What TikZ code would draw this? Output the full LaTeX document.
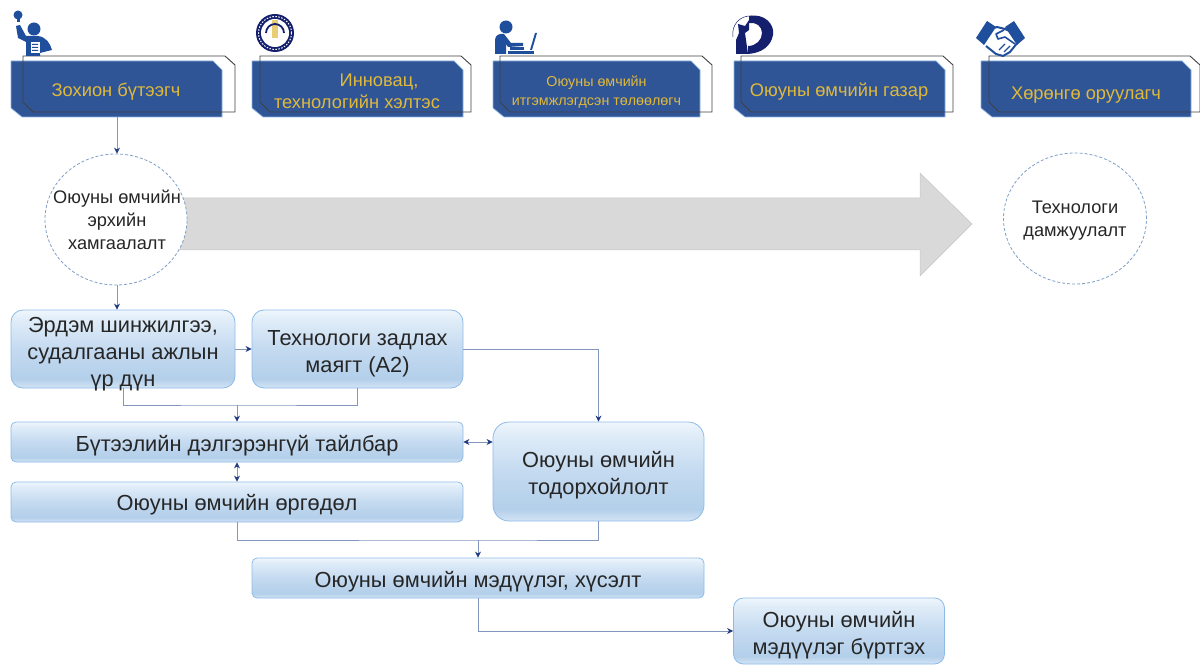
\documentclass[tikz,border=0pt]{standalone}
\usepackage{fontspec}
\setmainfont{Liberation Sans}
\usetikzlibrary{arrows.meta,shapes.geometric}
\definecolor{hblue}{HTML}{2F5597}
\definecolor{hedge}{HTML}{8DB4E2}
\definecolor{hgold}{HTML}{E0B93A}
\definecolor{line}{HTML}{8296BE}
\definecolor{tip}{HTML}{1F3A80}
\definecolor{bedge}{HTML}{8DBBE8}
\definecolor{icon}{HTML}{1F4E9C}
\definecolor{navy}{HTML}{14206E}
\definecolor{dashc}{HTML}{7F9FC8}
\definecolor{sa}{HTML}{D4E4F4}
\definecolor{sb}{HTML}{B3CFEA}
\definecolor{sc}{HTML}{C4DAF0}
\definecolor{sd}{HTML}{E2EEF9}
\definecolor{se}{HTML}{F0F6FC}
\pgfdeclareverticalshading{boxshade}{100bp}{
 color(0bp)=(sa); color(25bp)=(sa); color(31bp)=(sb); color(50bp)=(sc); color(70bp)=(sd); color(75bp)=(se); color(100bp)=(se)}
\newcommand{\tg}[1]{\rule{0pt}{#1pt}}
\tikzset{
 x=1pt,y=-1pt,
 every node/.style={inner sep=0pt,align=center,text=black!85},
 hfill/.style={fill=hblue,draw=hedge,line width=.7pt},
 houtline/.style={draw=black!75,line width=.9pt},
 htext/.style={text=hgold,font=\fontsize{18.3}{22}\selectfont},
 hsmall/.style={text=hgold,font=\fontsize{14.3}{19}\selectfont},
 flow/.style={draw=bedge,line width=.8pt,rounded corners=#1,shading=boxshade,font=\fontsize{21.8}{27.3}\selectfont},
 flow/.default=12pt,
 ftext/.style={font=\fontsize{21.8}{27.3}\selectfont},
 conn/.style={draw=line,line width=.9pt,-{Stealth[length=6pt,width=6pt,color=tip]}},
 bi/.style={draw=line,line width=.9pt,{Stealth[length=6pt,width=6pt,color=tip]}-{Stealth[length=6pt,width=6pt,color=tip]}},
 plain/.style={draw=line,line width=.9pt},
 circ/.style={draw=dashc,dash pattern=on 3pt off 2pt,line width=.8pt,fill=white,ellipse},
 ctext/.style={font=\fontsize{18.2}{23}\selectfont}
}
\newcommand{\headshape}[5]{%
 \path[hfill] (#2,61) -- (#3-9,61) -- (#3,70) -- (#3,117) -- (#2+11,117) -- (#2,108) -- cycle;
 \path[houtline] (#4,56) -- (#5-10,56) -- (#5,65) -- (#5,112) -- (#4+10,112) -- (#4,102) -- cycle;
 \coordinate (#1) at ({(#2+#3)/2},117);
}
\begin{document}
\begin{tikzpicture}
\useasboundingbox (0,0) rectangle (1200,671);
% header boxes
\headshape{h1}{11}{222}{23}{235}
\headshape{h2}{252}{463}{260}{471}
\headshape{h3}{493}{700}{500}{712}
\headshape{h4}{734}{945}{741}{953}
\headshape{h5}{981}{1191}{989}{1200}
\coordinate (h1b) at (117,117);
\node[htext] (t1) at (116,91.5) {Зохион бүтээгч};
\node[htext] (t2) at (357,91) {\hspace*{44pt}Инновац,\\технологийн хэлтэс};
\node[hsmall] (t3) at (596.5,92) {Оюуны  өмчийн\\итгэмжлэгдсэн  төлөөлөгч};
\node[htext] (t4) at (839,91.5) {Оюуны өмчийн газар};
\node[htext] (t5) at (1086,95) {Хөрөнгө оруулагч};
% icons
 % person with bulb
 \fill[icon] (18,15) circle (4.5);
 \fill[icon] (16.5,19) rectangle (19.5,22);
 \fill[icon] (34,29) circle (6.5);
 \fill[icon] (16,26) -- (20,25) -- (26,36) -- (38,36) .. controls (46,37) and (50,43) .. (52,50) -- (40,53) -- (40,56) -- (26,56) -- (26,42) -- (18,38) -- cycle;
 \fill[white] (31,42) rectangle (40,53);
 \fill[icon] (32,44) rectangle (38,45) (32,47) rectangle (38,48) (32,50) rectangle (38,51);
 % seal
 \fill[navy] (275,33) circle (19);
 \fill[white] (275,33) circle (14);
 \fill[hgold!70!white] (272,20) rectangle (278,38);
 \draw[navy,line width=1.8pt] (266,33) arc[start angle=180,end angle=360,radius=9];
 \draw[white,line width=1pt,dash pattern=on 1.5pt off 1.5pt] (275,33) circle (16.5);
 % laptop person
 \fill[icon] (506,27) circle (6.5);
 \fill[icon] (495,54) -- (495,40) .. controls (495,35) and (500,33) .. (504,34) -- (511,43) -- (523,43) -- (523,46) -- (508,47) -- (506,44) -- (506,54) -- cycle;
 \fill[icon] (508,51) rectangle (534,54);
 \fill[icon] (510,47.5) rectangle (524,50);
 \fill[icon] (530,50) -- (535,33) -- (537,33) -- (532,50) -- cycle;
 % IP logo
 \fill[navy] (749,16) .. controls (764,13) and (775,24) .. (773,35) .. controls (771,46) and (762,53) .. (748,54) -- (748,46) .. controls (756,46) and (762,40) .. (762,33) .. controls (762,26) and (756,22) .. (749,23) -- cycle;
 \fill[navy] (736,54) -- (736,40) -- (739,33) -- (738,24) -- (745,26) -- (749,20) -- (749,30) -- (745,33) -- (748,54) -- cycle;
 \draw[navy,line width=.5pt] (733,37) .. controls (731,25) and (740,15) .. (752,16);
 % handshake
 \fill[icon] (976,38) -- (987,21) -- (996,27) -- (984,45) -- cycle;
 \fill[icon] (1025,38) -- (1014,21) -- (1005,27) -- (1017,45) -- cycle;
 \draw[icon,line width=2pt,line join=round] (988,30) -- (997,27) -- (1005,29) -- (1014,33) -- (1018,42) -- (1010,52) -- (1003,56) -- (996,54) -- (986,46);
 \draw[icon,line width=1.6pt,line join=round] (1004,30) -- (996,34) -- (998,39) -- (1005,37) -- (1015,44);
 \draw[icon,line width=1.4pt] (1010,46) -- (1004,52) (1005,44) -- (999,50);
% big arrow
\path[fill=black!15!white,draw=black!22!white,line width=.5pt] (180,198) -- (920,198) -- (920,173) -- (972,224) -- (920,276) -- (920,250) -- (180,250) -- cycle;
% circles
\node[circ,minimum width=142pt,minimum height=131pt] (c1) at (116,219.5) {};
\node[ctext] (c1t) at (117,220) {Оюуны өмчийн\\эрхийн\\хамгаалалт};
\node[circ,minimum width=143pt,minimum height=131pt] (c2) at (1075,218.5) {};
\node[ctext] (c2t) at (1075,221) {Технологи\\дамжуулалт};
% flow boxes
\node[flow,minimum width=224pt,minimum height=78pt] (e1) at (123,349) {};
\node[ftext] (e1t) at (123,354) {Эрдэм шинжилгээ,\\судалгааны ажлын\\үр дүн};
\node[flow,minimum width=211pt,minimum height=78pt] (e2) at (357.5,349) {\tg{24}Технологи задлах\\маягт (А2)};
\node[flow=5pt,minimum width=452pt,minimum height=40pt] (d) at (237,442) {\tg{24}Бүтээлийн дэлгэрэнгүй тайлбар};
\node[flow=5pt,minimum width=452pt,minimum height=40pt] (a) at (237,502) {\tg{22}Оюуны өмчийн өргөдөл};
\node[flow=16pt,minimum width=211pt,minimum height=99pt] (o) at (598.5,471.5) {\tg{24}Оюуны өмчийн\\тодорхойлолт};
\node[flow=5pt,minimum width=452pt,minimum height=40pt] (m) at (478,578) {\tg{24}Оюуны өмчийн мэдүүлэг, хүсэлт};
\node[flow=10pt,minimum width=211pt,minimum height=66pt] (b) at (839,631) {\tg{24}Оюуны өмчийн\\мэдүүлэг бүртгэх};
% connectors
\coordinate (j1) at (237,405);
\coordinate (j2) at (478,540);
\draw[conn] (h1b) -- (h1b |- c1.north);
\draw[conn] (c1.south -| h1b) -- (h1b |- e1.north);
\draw[conn] (e1.east) -- (e2.west);
\draw[conn] (e2.east) -| (o.north);
\draw[plain] (e1.south) |- (j1) -| (e2.south);
\draw[conn] (j1) -- (j1 |- d.north);
\draw[bi] (d.south) -- (a.north);
\draw[bi] (d.east) -- (d.east -| o.west);
\draw[plain] (a.south) |- (j2) -| (o.south);
\draw[conn] (j2) -- (j2 |- m.north);
\draw[conn] (m.south) |- (b.west);
\end{tikzpicture}
\end{document}
